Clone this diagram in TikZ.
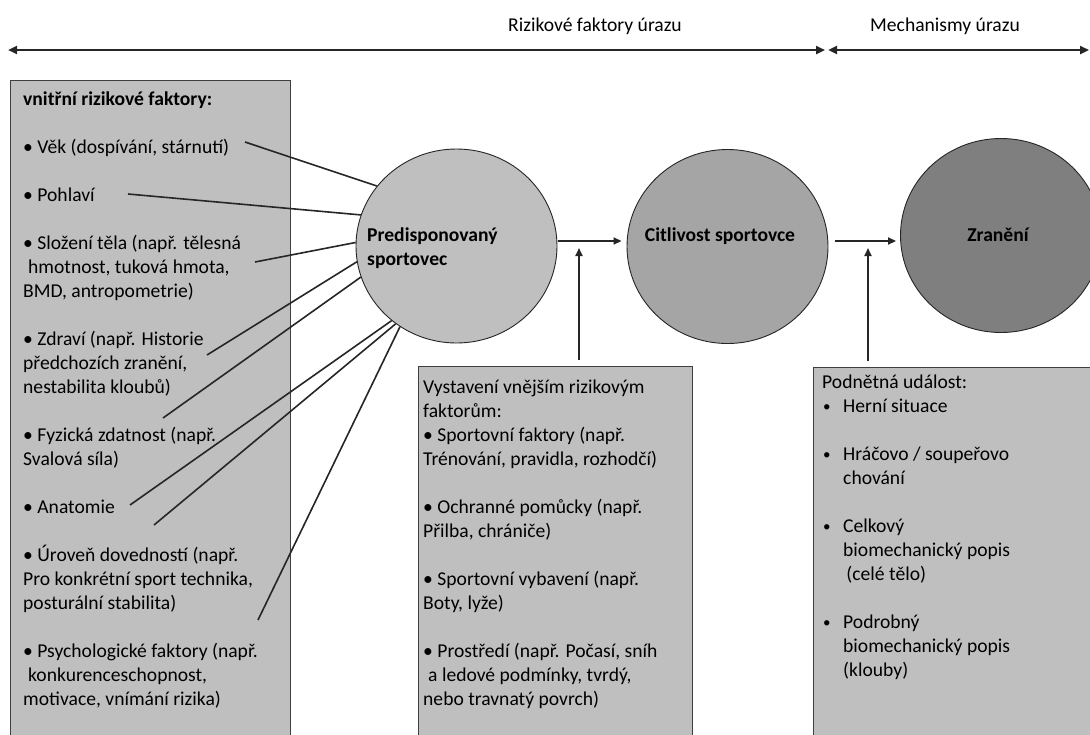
\documentclass[tikz,border=0pt]{standalone}
\usepackage{fontspec}
\setmainfont{Carlito}
\usetikzlibrary{arrows.meta,shapes.geometric}

\definecolor{panelgray}{HTML}{BFBFBF}
\definecolor{predgray}{HTML}{BFBFBF}
\definecolor{citlgray}{HTML}{A5A5A5}
\definecolor{zrangray}{HTML}{7F7F7F}
\definecolor{edgegray}{HTML}{3F3F3F}

\newcommand{\evbul}{\makebox[21pt][l]{\hspace*{1pt}\raisebox{0.5pt}{\fontsize{15}{24}\selectfont•}}}
\newcommand{\evind}{\hspace*{21pt}}

\tikzset{
  panel/.style={draw=edgegray, line width=1.2pt, fill=panelgray, anchor=north west, inner sep=0pt},
  txt/.style={anchor=base west, align=left, inner sep=0pt, font=\fontsize{19.6}{24}\selectfont},
  head/.style={anchor=base, inner sep=0pt, font=\fontsize{19.6}{24}\selectfont\bfseries},
  ball/.style={ellipse, draw=black!85, line width=0.9pt, minimum width=201pt, minimum height=194pt, inner sep=0pt},
  link/.style={line width=1.6pt, black!85},
  arr/.style={line width=1.7pt, black!85, -{Triangle[length=8pt,width=7pt]}},
  span/.style={line width=2.3pt, black!85, {Triangle[length=9pt,width=8pt]}-{Triangle[length=9pt,width=8pt]}}
}

\begin{document}
\begin{tikzpicture}[x=1pt,y=-1pt]
    \useasboundingbox (0,0) rectangle (1090,734);
    % top spans
    \node[anchor=base, font=\fontsize{19.6}{24}\selectfont] (rizlab) at (595,31) {Rizikové faktory úrazu};
    \node[anchor=base, font=\fontsize{19.6}{24}\selectfont] (mechlab) at (945,31) {Mechanismy úrazu};
    \coordinate (lspan) at (8,50);
    \coordinate (mida) at (825,50);
    \coordinate (midb) at (828,50);
    \coordinate (rspan) at (1089,50);
    \draw[span] (lspan) -- (mida);
    \draw[span] (midb) -- (rspan);

    % boxes
    \node[panel, minimum width=280pt, minimum height=670pt] (intr) at (10,80) {};
    \node[panel, minimum width=274pt, minimum height=380pt] (ext) at (418,366) {};
    \node[panel, minimum width=290pt, minimum height=380pt] (ev) at (813,367) {};

    % base = last line
    \node[txt] (intrtxt) at (23,705) {\textbf{vnitřní rizikové faktory:}\\[24pt]
        • Věk (dospívání, stárnutí)\\[24pt]
        • Pohlaví\\[24pt]
        • Složení těla (např. tělesná\\
        \hspace*{5pt}hmotnost, tuková hmota,\\
        BMD, antropometrie)\\[24pt]
        • Zdraví (např. Historie\\
        předchozích zranění,\\
        nestabilita kloubů)\\[24pt]
        • Fyzická zdatnost (např.\\
        Svalová síla)\\[24pt]
        • Anatomie\\[24pt]
        • Úroveň dovedností (např.\\
        Pro konkrétní sport technika,\\
        posturální stabilita)\\[24pt]
        • Psychologické faktory (např.\\
        \hspace*{5pt}konkurenceschopnost,\\
        motivace, vnímání rizika)};
    \node[txt] (exttxt) at (423,705) {Vystavení vnějším rizikovým\\
        faktorům:\\
        • Sportovní faktory (např.\\
        Trénování, pravidla, rozhodčí)\\[24pt]
        • Ochranné pomůcky (např.\\
        Přilba, chrániče)\\[24pt]
        • Sportovní vybavení (např.\\
        Boty, lyže)\\[24pt]
        • Prostředí (např. Počasí, sníh\\
        \hspace*{5pt}a ledové podmínky, tvrdý,\\
        nebo travnatý povrch)};
    \node[txt] (evtxt) at (822,676) {Podnětná událost:\\
        \evbul Herní situace\\[24pt]
        \evbul Hráčovo / soupeřovo\\
        \evind chování\\[24pt]
        \evbul Celkový\\
        \evind biomechanický popis\\
        \evind\,(celé tělo)\\[24pt]
        \evbul Podrobný\\
        \evind biomechanický popis\\
        \evind (klouby)};

    % links from the inner factors
    \coordinate (vek) at (245,142);
    \coordinate (pohl) at (128,194);
    \coordinate (slz) at (255,262);
    \coordinate (zdr) at (207,355);
    \coordinate (fyz) at (163,418);
    \coordinate (anat) at (130,505);
    \coordinate (urov) at (154,525);
    \coordinate (psy) at (258,620);

    % circles
    \node[ball, fill=predgray] (pred) at (456.5,246) {};
    \node[ball, fill=citlgray] (citl) at (727.5,246.5) {};
    \node[ball, fill=zrangray] (zran) at (1001,235.5) {};

    \draw[link] (vek) -- (pred.143);
    \draw[link] (pohl) -- (pred.162);
    \draw[link] (slz) -- (pred.178);
    \draw[link] (zdr) -- (pred.189);
    \draw[link] (fyz) -- (pred.198);
    \draw[link] (anat) -- (pred.229);
    \draw[link] (urov) -- (pred.232);
    \draw[link] (psy) -- (pred.235);

    \node[txt, font=\fontsize{19.6}{24}\selectfont\bfseries] (predtxt) at (367,265) {Predisponovaný\\ sportovec};
    \node[head] (citltxt) at (720,241) {Citlivost sportovce};
    \node[head] (zrantxt) at (998,241) {Zranění};

    % flow
    \draw[arr, shorten <=1pt, shorten >=5pt] (pred.east |- 0,241) -- (citl.west |- 0,241);
    \draw[arr, shorten <=7pt, shorten >=4pt] (citl.east |- 0,241) -- (zran.west |- 0,241);
    \coordinate (ja) at (579,248);
    \coordinate (jb) at (868,248);
    \draw[arr, shorten <=6pt] (ext.north -| ja) -- (ja);
    \draw[arr, shorten <=6pt] (ev.north -| jb) -- (jb);
\end{tikzpicture}
\end{document}
